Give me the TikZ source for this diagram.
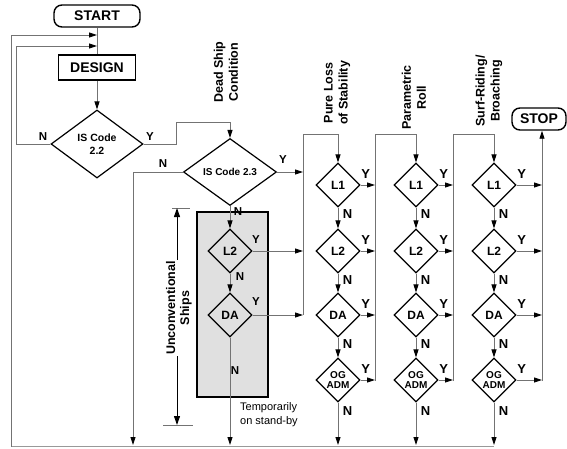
\documentclass[tikz,border=0pt]{standalone}
\usepackage{fontspec}
\setmainfont{Liberation Sans}
\usetikzlibrary{shapes.geometric,arrows.meta,calc}
\begin{document}
\begin{tikzpicture}[x=1pt,y=-1pt,
  conn/.style={draw=black!55, line width=0.9pt},
  arr/.style={conn, -{Triangle[length=8pt,width=5pt,color=black]}},
  term/.style={draw, line width=1.4pt, rounded corners=8pt, inner sep=0pt,
    font=\bfseries\fontsize{14}{16}\selectfont},
  dia/.style={diamond, draw, line width=1.2pt, inner sep=0pt,
    minimum width=44pt, minimum height=44pt, align=center,
    font=\bfseries\fontsize{12}{12}\selectfont},
  ogfont/.style={font=\bfseries\fontsize{10}{10.5}\selectfont},
  yn/.style={font=\bfseries\fontsize{11.5}{12}\selectfont, inner sep=0pt},
  ynbig/.style={font=\bfseries\fontsize{13}{14}\selectfont, inner sep=0pt},
  collab/.style={rotate=90, anchor=west, align=center, inner sep=0pt,
    font=\bfseries\fontsize{12.5}{15}\selectfont},
  bottomline/.style={draw=black!40, line width=1.6pt},
]
\useasboundingbox (0,0) rectangle (567,448);

% shaded box for unconventional ships
\node[draw, line width=2pt, fill=gray!24, minimum width=71pt, minimum height=185pt, inner sep=0pt] (ubox) at (232.5,304.5) {};

% terminals and process
\node[term, minimum width=86pt, minimum height=22pt] (start) at (97,16) {START};
\node[draw, line width=1.4pt, minimum width=77pt, minimum height=25pt, inner sep=0pt,
  font=\bfseries\fontsize{14}{16}\selectfont] (design) at (97,67.5) {DESIGN};
\node[term, minimum width=54pt, minimum height=22pt] (stop) at (539,119) {STOP};

% IS Code diamonds
\node[dia, minimum width=92pt, minimum height=68pt, font=\bfseries\fontsize{10.5}{13}\selectfont] (is22) at (97,144) {IS Code\\2.2};
\node[dia, minimum width=93pt, minimum height=67pt, font=\bfseries\fontsize{10}{12}\selectfont] (is23) at (230,172) {IS Code 2.3};

% helper coordinates
\coordinate (j1) at (97,35);
\coordinate (j2) at (97,46);
\coordinate (bl) at (11,446.5);
\coordinate (br) at (494,446.5);
\coordinate (bot) at (0,445);
\coordinate (l2) at (16,144);
\coordinate (c1) at (176,122);
\coordinate (b133) at (133,445);
\coordinate (k1) at (303,315);
\coordinate (t1) at (303,134);
\coordinate (k2) at (375,381);
\coordinate (t2) at (375,134);
\coordinate (k3) at (453,381);
\coordinate (t3) at (453,134);
\coordinate (k4) at (542,381);

% main spine
\draw[conn] (start.south) -- (design.north);
\draw[arr] (design.south) -- (is22.north);
\draw[bottomline] (br) -- (bl);
\draw[arr] (bl) |- (j1);
\draw[arr] (is22.west) -- (l2) |- (j2);
\draw[arr] (is22.east) -| (c1) -| (is23.north);
\draw[arr] (is23.west) -| (b133);
\draw[arr] (is23.east) -- (is23.east -| k1);
\node[yn] (is22n) at (43,137) {N};
\node[yn] (is22y) at (150,137) {Y};
\node[yn] (is23n) at (163,164) {N};
\node[yn] (is23y) at (283,160) {Y};

% unconventional ships inner diamonds
\node[dia] (s2) at (230,251) {L2};
\node[dia] (s3) at (230,315) {DA};
\draw[arr] (is23.south) -- (s2.north);
\draw[arr] (s2.south) -- (s3.north);
\draw[arr] (s3.south) -- (s3.south |- bot);
\draw[arr] (s2.east) -- (s2.east -| k1);
\draw[arr] (s3.east) -- (s3.east -| k1);
\node[yn] (s1n) at (238,212) {N};
\node[yn] (s2n) at (240,277) {N};
\node[yn] (s3n) at (235,371) {N};
\node[yn] (s2y) at (256,240) {Y};
\node[yn] (s3y) at (256,302) {Y};

% dimension for unconventional ships
\coordinate (dt) at (177,208);
\coordinate (db) at (177,425);
\coordinate (dtl) at (172,208);
\coordinate (dtr) at (190,208);
\coordinate (dbl) at (163,425);
\coordinate (dbr) at (193,425);
\draw[conn, line width=0.6pt] (dtl) -- (dtr);
\draw[conn, line width=0.6pt] (dbl) -- (dbr);
\draw[line width=1pt, {Triangle[length=9pt,width=6pt]}-{Triangle[length=9pt,width=6pt]}] (dt) -- (db);
\node[rotate=90, fill=white, align=center, inner sep=1pt,
  font=\bfseries\fontsize{12.5}{14}\selectfont] (ulab) at (179,308) {Unconventional\\Ships};
\node[anchor=north west, align=left, inner sep=0pt,
  font=\fontsize{11}{13.5}\selectfont] (temp) at (240,402.5) {Temporarily\\on stand-by};

% columns
\foreach \col/\x/\k in {a/338/k2, b/416/k3, c/494/k4} {
  \node[dia] (\col1) at (\x,185) {L1};
  \node[dia] (\col2) at (\x,251) {L2};
  \node[dia] (\col3) at (\x,315) {DA};
  \node[dia, ogfont] (\col4) at (\x,380) {OG\\ADM};
  \draw[arr] (\col1.south) -- (\col2.north);
  \draw[arr] (\col2.south) -- (\col3.north);
  \draw[arr] (\col3.south) -- (\col4.north);
  \draw[arr] (\col4.south) -- (\col4.south |- bot);
  \draw[arr] (\col1.east) -- (\col1.east -| \k);
  \draw[arr] (\col2.east) -- (\col2.east -| \k);
  \draw[arr] (\col3.east) -- (\col3.east -| \k);
  \draw[arr] (\col4.east) -- (\col4.east -| \k);
  \node[ynbig] (\col1y) at ($(\col1.east)+(5,-11)$) {Y};
  \node[ynbig] (\col2y) at ($(\col2.east)+(5,-11)$) {Y};
  \node[ynbig] (\col3y) at ($(\col3.east)+(5,-11)$) {Y};
  \node[ynbig] (\col4y) at ($(\col4.east)+(5,-11)$) {Y};
  \node[ynbig] (\col1n) at ($(\col1.south)+(9.5,6)$) {N};
  \node[ynbig] (\col2n) at ($(\col2.south)+(9.5,6)$) {N};
  \node[ynbig] (\col3n) at ($(\col3.south)+(9.5,6)$) {N};
  \node[ynbig] (\col4n) at ($(\col4.south)+(9.5,8)$) {N};
}

% column collectors
\draw[arr] (k1) -- (t1) -| (a1.north);
\draw[arr] (k2) -- (t2) -| (b1.north);
\draw[arr] (k3) -- (t3) -| (c1.north);
\draw[arr] (k4) -- (k4 |- stop.south);

% column labels
\node[collab] (lab0) at (226,103) {Dead Ship\\Condition};
\node[collab] (lab1) at (337,125) {Pure Loss\\of Stability};
\node[collab] (lab2) at (414,130) {Parametric\\Roll};
\node[collab] (lab3) at (489,127) {Surf-Riding/\\Broaching};
\end{tikzpicture}
\end{document}
